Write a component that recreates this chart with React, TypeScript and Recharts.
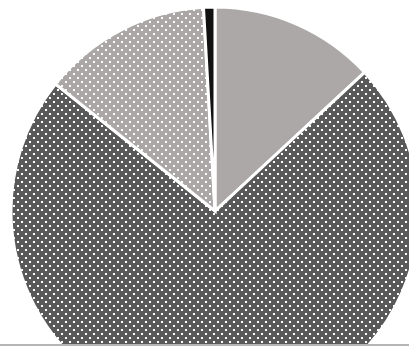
import { PieChart, Pie, Cell } from 'recharts'

const names = ['A', 'B', 'C', 'D']
const values = [13.1, 72.6, 13.4, 0.9]
const fills = ['#aba8a7', 'url(#dotsDark)', 'url(#dotsLight)', '#111111']

const data = names.map((name, i) => ({ name, value: values[i] }))

export default function App() {
  return (
    <div style={{ position: 'absolute', left: 0, top: 0, width: 409, height: 346, overflow: 'hidden', background: '#fff' }}>
      <svg width={0} height={0} style={{ position: 'absolute' }}>
        <defs>
          <pattern id="dotsDark" width={8} height={8} patternUnits="userSpaceOnUse">
            <rect width={8} height={8} fill="#595959" />
            <rect x={1} y={1} width={2} height={2} fill="#ffffff" />
            <rect x={5} y={5} width={2} height={2} fill="#ffffff" />
          </pattern>
          <pattern id="dotsLight" width={8} height={8} patternUnits="userSpaceOnUse">
            <rect width={8} height={8} fill="#aaa7a6" />
            <rect x={1} y={1} width={2} height={2} fill="#ffffff" />
            <rect x={5} y={5} width={2} height={2} fill="#ffffff" />
          </pattern>
        </defs>
      </svg>
      <PieChart width={409} height={346} margin={{ top: 0, right: 0, bottom: 0, left: 0 }}>
        <Pie
          data={data}
          dataKey="value"
          nameKey="name"
          cx={215}
          cy={211}
          innerRadius={0}
          outerRadius={204}
          startAngle={90}
          endAngle={-270}
          stroke="#ffffff"
          strokeWidth={3}
          isAnimationActive={false}
        >
          {data.map((entry, i) => (
            <Cell key={entry.name} fill={fills[i]} />
          ))}
        </Pie>
      </PieChart>
      <div style={{ position: 'absolute', left: 0, top: 344, width: 409, height: 2, background: '#b5b5b5' }} />
    </div>
  )
}
